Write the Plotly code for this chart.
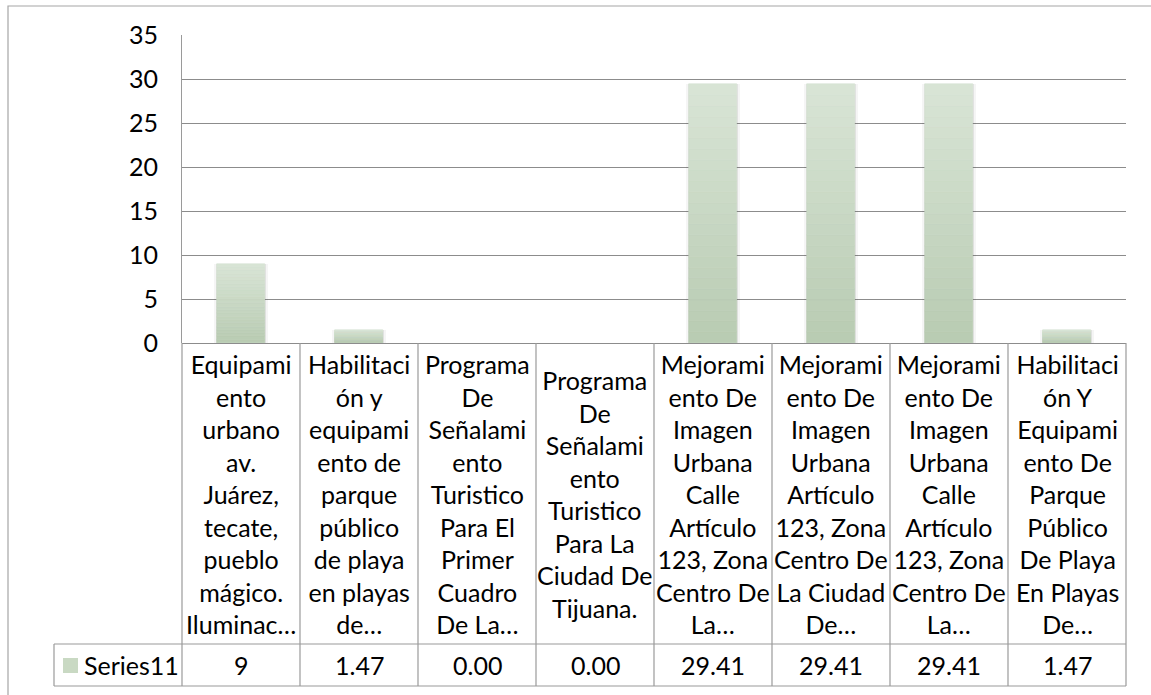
import plotly.graph_objects as go

# ---------------- data ----------------
series_name = "Series11"
category_lines = [
    ["Equipami", "ento", "urbano", "av.", "Juárez,", "tecate,", "pueblo", "mágico.", "Iluminac…"],
    ["Habilitaci", "ón y", "equipami", "ento de", "parque", "público", "de playa", "en playas", "de…"],
    ["Programa", "De", "Señalami", "ento", "Turistico", "Para El", "Primer", "Cuadro", "De La…"],
    ["Programa", "De", "Señalami", "ento", "Turistico", "Para La", "Ciudad De", "Tijuana."],
    ["Mejorami", "ento De", "Imagen", "Urbana", "Calle", "Artículo", "123, Zona", "Centro De", "La…"],
    ["Mejorami", "ento De", "Imagen", "Urbana", "Artículo", "123, Zona", "Centro De", "La Ciudad", "De…"],
    ["Mejorami", "ento De", "Imagen", "Urbana", "Calle", "Artículo", "123, Zona", "Centro De", "La…"],
    ["Habilitaci", "ón Y", "Equipami", "ento De", "Parque", "Público", "De Playa", "En Playas", "De…"],
]
values = [9, 1.47, 0.00, 0.00, 29.41, 29.41, 29.41, 1.47]
value_text = ["9", "1.47", "0.00", "0.00", "29.41", "29.41", "29.41", "1.47"]
y_ticks = [0, 5, 10, 15, 20, 25, 30, 35]

# ---------------- layout constants ----------------
W, H = 1151, 695
ML, MR, MT, MB = 182, 25, 35, 9
plot_h = H - MT - MB                     # 651
base_px = 343                            # pixel row of y=0
ydom0 = (H - MB - base_px) / plot_h      # bottom of bar area in paper coords
row_sep = (H - MB - 644) / plot_h        # separator between labels and values
label_mid = (ydom0 + row_sep) / 2
value_mid = row_sep / 2
plot_w = W - ML - MR
legend_left = (54 - ML) / plot_w

FONT = "Lato, Carlito, Calibri, sans-serif"
FS = 25
GRID = "#8c8c8c"
TABLE = "#9a9a9a"
BAR_TOP = (0xd8, 0xe4, 0xd5)
BAR_BOT = (0xb9, 0xcc, 0xb3)
BAR = "#c9d9c3"
BAR_W = 0.407
N_SLICES = 24

n = len(values)
xs = list(range(n))
seam_w = [0.6 if v > 0 else 0 for v in values]

fig = go.Figure()
# soft shadow layers behind bars
fig.add_trace(go.Bar(x=xs, y=values, width=BAR_W + 0.045, marker=dict(color="rgba(0,0,0,0.04)", line_width=0),
                     hoverinfo="skip", showlegend=False))
fig.add_trace(go.Bar(x=xs, y=values, width=BAR_W + 0.025, marker=dict(color="rgba(0,0,0,0.07)", line_width=0),
                     hoverinfo="skip", showlegend=False))
# bars with a vertical gradient (light top -> darker bottom), built as slices of each value
for k in range(N_SLICES):
    t = k / (N_SLICES - 1)  # 0 bottom -> 1 top
    c = "rgb(%d,%d,%d)" % tuple(round(BAR_BOT[j] + (BAR_TOP[j] - BAR_BOT[j]) * t) for j in range(3))
    fig.add_trace(go.Bar(
        x=xs, y=[v / N_SLICES for v in values], base=[v * k / N_SLICES for v in values],
        width=BAR_W, name=series_name,
        marker=dict(color=c, line=dict(width=seam_w, color=c)),
        showlegend=False, hoverinfo="skip" if k else None))

shapes = []
# outer chart border
shapes.append(dict(type="rect", xref="paper", yref="paper",
                   x0=(8 - ML) / plot_w, x1=1.2, y0=-0.2, y1=(H - MB - 6) / plot_h,
                   line=dict(color="#a6a6a6", width=1.2), fillcolor="rgba(0,0,0,0)", layer="below"))
# table vertical lines
for i in range(n + 1):
    shapes.append(dict(type="line", xref="paper", yref="paper",
                       x0=i / n, x1=i / n, y0=0, y1=ydom0,
                       line=dict(color=TABLE, width=1.2)))
# horizontal table lines
shapes.append(dict(type="line", xref="paper", yref="paper", x0=legend_left, x1=1,
                   y0=row_sep, y1=row_sep, line=dict(color=TABLE, width=1.2)))
shapes.append(dict(type="line", xref="paper", yref="paper", x0=legend_left, x1=1,
                   y0=0, y1=0, line=dict(color=TABLE, width=1.2)))
shapes.append(dict(type="line", xref="paper", yref="paper", x0=legend_left, x1=legend_left,
                   y0=0, y1=row_sep, line=dict(color=TABLE, width=1.2)))
# legend swatch
sw0 = (63 - ML) / plot_w
sw1 = (78 - ML) / plot_w
shapes.append(dict(type="rect", xref="paper", yref="paper", x0=sw0, x1=sw1,
                   y0=(H - MB - 673) / plot_h, y1=(H - MB - 658) / plot_h,
                   line=dict(width=0), fillcolor=BAR))

annotations = []
for i, lines in enumerate(category_lines):
    annotations.append(dict(x=i, xref="x", y=label_mid, yref="paper", yanchor="middle",
                            xanchor="center", align="center", showarrow=False,
                            text="<br>".join(lines), font=dict(family=FONT, size=FS, color="#000")))
for i, t in enumerate(value_text):
    annotations.append(dict(x=i, xref="x", y=value_mid, yref="paper", yanchor="middle",
                            xanchor="center", showarrow=False, text=t,
                            font=dict(family=FONT, size=FS, color="#000")))
annotations.append(dict(x=(82 - ML) / plot_w, xref="paper", y=value_mid, yref="paper",
                        xanchor="left", yanchor="middle", showarrow=False, text=series_name,
                        font=dict(family=FONT, size=FS, color="#000")))

fig.update_layout(
    width=W, height=H,
    margin=dict(l=ML, r=MR, t=MT, b=MB),
    paper_bgcolor="white", plot_bgcolor="white",
    barmode="overlay", bargap=0,
    shapes=shapes, annotations=annotations,
    font=dict(family=FONT, size=FS, color="#000"),
    xaxis=dict(range=[-0.5, n - 0.5], showticklabels=False, showgrid=False,
               zeroline=False, showline=False, fixedrange=True, automargin=False),
    yaxis=dict(range=[0, 35], domain=[ydom0, 1], tickvals=y_ticks, showgrid=True,
               gridcolor=GRID, gridwidth=1, zeroline=True, zerolinecolor=GRID, zerolinewidth=1,
               showline=True, linecolor=TABLE, linewidth=1.2, ticks="",
               ticklabelstandoff=18, automargin=False,
               tickfont=dict(family=FONT, size=FS, color="#000")),
)

fig.write_html("out.html", config={"displayModeBar": False},
               post_script="document.body.style.margin='0';document.body.style.overflow='hidden';")
